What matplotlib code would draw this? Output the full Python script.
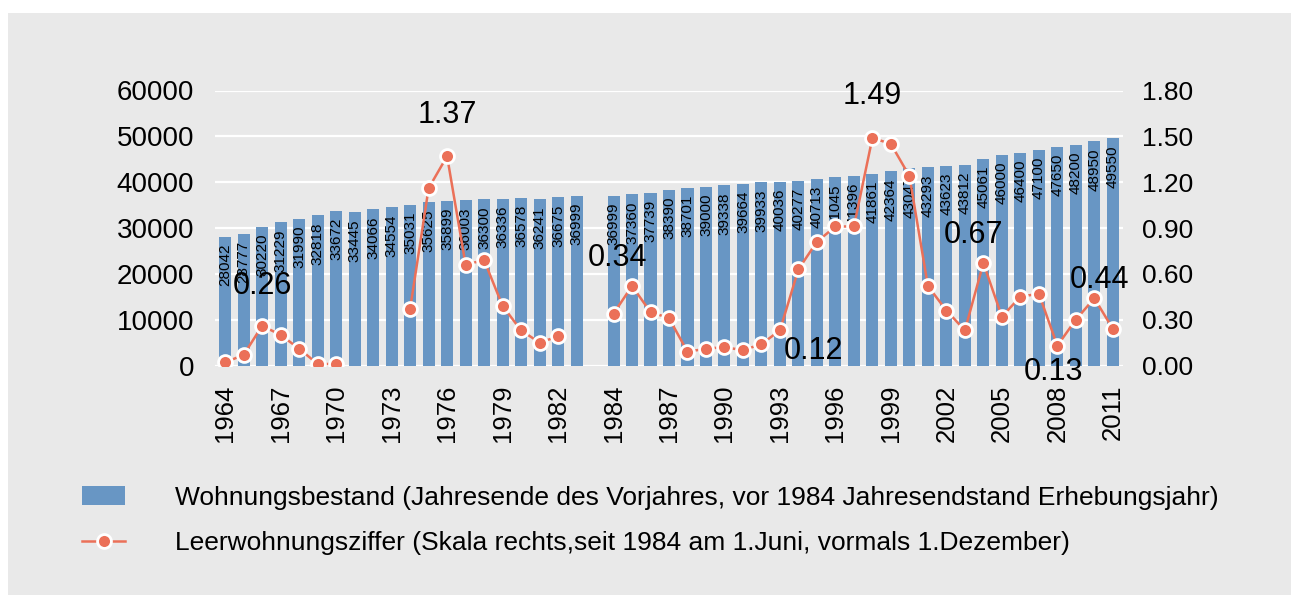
import numpy as np
import matplotlib
matplotlib.use("Agg")
import matplotlib.pyplot as plt
from matplotlib.patches import Rectangle

plt.rcParams['font.family'] = ['Liberation Sans', 'DejaVu Sans']

nan = np.nan

# categories (one empty slot between 1983 and 1984)
years = [str(y) for y in range(1964, 1984)] + [""] + [str(y) for y in range(1984, 2012)]

# Wohnungsbestand
bestand = [28042, 28777, 30220, 31229, 31990, 32818, 33672, 33445, 34066, 34554,
           35031, 35625, 35899, 36003, 36300, 36336, 36578, 36241, 36675, 36999,
           nan,
           36999, 37360, 37739, 38390, 38701, 39000, 39338, 39664, 39933, 40036,
           40277, 40713, 41045, 41396, 41861, 42364, 43047, 43293, 43623, 43812,
           45061, 46000, 46400, 47100, 47650, 48200, 48950, 49550]

# Leerwohnungsziffer (%)
leer = [0.02, 0.07, 0.26, 0.20, 0.11, 0.01, 0.01, nan, nan, nan,
        0.37, 1.16, 1.37, 0.66, 0.69, 0.39, 0.23, 0.15, 0.19, nan,
        nan,
        0.34, 0.52, 0.35, 0.31, 0.09, 0.11, 0.12, 0.10, 0.14, 0.23,
        0.63, 0.81, 0.91, 0.91, 1.49, 1.45, 1.24, 0.52, 0.36, 0.23,
        0.67, 0.32, 0.45, 0.47, 0.13, 0.30, 0.44, 0.24]

# which points get a big label, and where (offset in points)
label_idx = [2, 12, 21, 27, 35, 41, 45, 47]
label_off = [(0, 29), (0, 30), (3, 40), (64, -3), (0, 30), (-7, 20), (-3, -19), (4, 13)]

bar_color = '#6896c4'
line_color = '#eb7058'
panel_color = '#e9e9e9'

fig = plt.figure(figsize=(12.91, 5.95), dpi=100)
fig.patches.append(Rectangle((8 / 1291, 0), 1 - 8 / 1291, 1 - 13 / 595,
                             transform=fig.transFigure, facecolor=panel_color,
                             edgecolor='none', zorder=-10))

ax = fig.add_axes([215 / 1291, 1 - 365.5 / 595, (1123 - 215) / 1291, (365.5 - 90.5) / 595])
ax.set_facecolor('none')
x = np.arange(len(years))

ax.set_axisbelow(True)
ax.yaxis.grid(True, color='white', linewidth=1.6)
bars = ax.bar(x, bestand, width=0.65, color=bar_color, zorder=2,
              label='Wohnungsbestand (Jahresende des Vorjahres, vor 1984 Jahresendstand Erhebungsjahr)')
for i, v in enumerate(bestand):
    if np.isnan(v):
        continue
    ax.annotate(str(int(v)), (i, v), xytext=(0, -5), textcoords='offset points',
                rotation=90, ha='center', va='top', fontsize=11, zorder=3)

ax.set_xlim(-0.55, len(years) - 0.45)
ax.set_ylim(0, 60000)
ax.set_yticks(range(0, 60001, 10000))
ax.set_xticks(x[::3])
ax.set_xticklabels(years[::3], rotation=90)
ax.tick_params(axis='both', length=0)
ax.tick_params(axis='y', pad=15, labelsize=20)
ax.tick_params(axis='x', pad=14, labelsize=18.5)
for s in ax.spines.values():
    s.set_visible(False)

ax2 = ax.twinx()
ax2.plot(x, leer, color=line_color, linewidth=1.8, marker='o', markersize=10,
         markerfacecolor=line_color, markeredgecolor='white', markeredgewidth=2,
         zorder=4,
         label='Leerwohnungsziffer (Skala rechts,seit 1984 am 1.Juni, vormals 1.Dezember)')
ax2.set_ylim(0, 1.8)
ax2.set_yticks(np.arange(0, 1.81, 0.3))
ax2.set_yticklabels(['%.2f' % t for t in np.arange(0, 1.81, 0.3)])
ax2.tick_params(axis='y', length=0, labelsize=19, pad=14)
for s in ax2.spines.values():
    s.set_visible(False)

for i, off in zip(label_idx, label_off):
    ax2.annotate('%.2f' % leer[i], (i, leer[i]), xytext=off, textcoords='offset points',
                 ha='center', va='center', fontsize=22, zorder=5)

h1, l1 = ax.get_legend_handles_labels()
h2, l2 = ax2.get_legend_handles_labels()
fig.legend(h1 + h2, l1 + l2, loc='upper left', bbox_to_anchor=(58 / 1291, 1 - 462 / 595),
           frameon=False, fontsize=19, handlelength=1.65, handletextpad=1.9,
           labelspacing=0.8, numpoints=1)

fig.savefig('out.png', dpi=100)
